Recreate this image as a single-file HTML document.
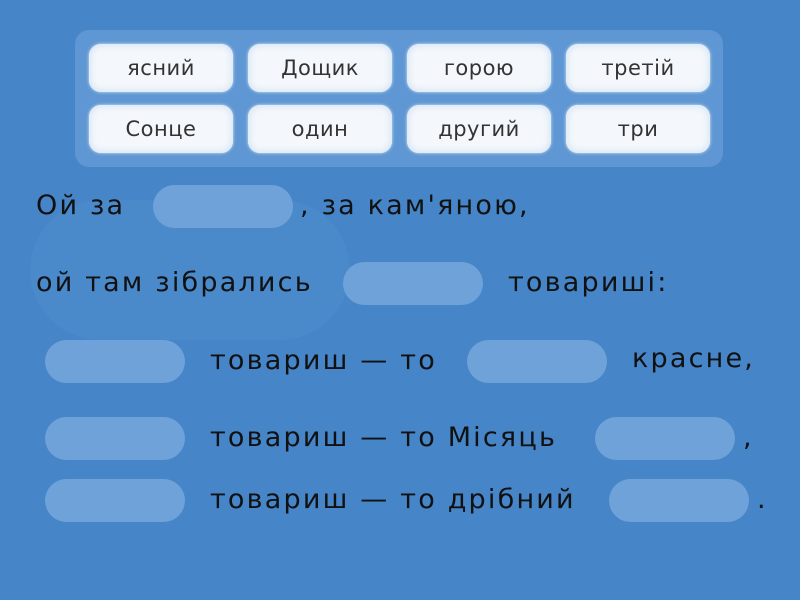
<!DOCTYPE html>
<html><head><meta charset="utf-8"><style>
html,body{margin:0;padding:0}
body{width:800px;height:600px;background:#4585c8;position:relative;overflow:hidden;font-family:"DejaVu Sans","Liberation Sans",sans-serif}
.blob{position:absolute;background:#4a8acb;border-radius:60px}
.panel{position:absolute;left:75px;top:30px;width:648px;height:137px;background:#5e97d3;border-radius:14px}
.card{position:absolute;width:144px;height:48px;background:#f4f8fc;border-radius:12px;box-shadow:0 0 6px 3px #dde9f6 inset,0 0 3px #dbe8f5;font-size:21px;letter-spacing:0.5px;color:#333;text-align:center;line-height:48px}
.b{position:absolute;width:140px;height:43px;background:#6fa2d9;border-radius:22px}
.t{position:absolute;font-size:27px;letter-spacing:2.2px;color:#111;white-space:pre;line-height:30px}
</style></head><body>
<div class="blob" style="left:30px;top:200px;width:320px;height:140px;border-radius:80px"></div>
<div class="panel"></div>
<div class="card" style="left:89px;top:44px">ясний</div>
<div class="card" style="left:248px;top:44px">Дощик</div>
<div class="card" style="left:407px;top:44px">горою</div>
<div class="card" style="left:566px;top:44px">третій</div>
<div class="card" style="left:89px;top:105px">Сонце</div>
<div class="card" style="left:248px;top:105px">один</div>
<div class="card" style="left:407px;top:105px">другий</div>
<div class="card" style="left:566px;top:105px">три</div>

<div class="t" style="left:36px;top:191px">Ой за</div>
<div class="b" style="left:153px;top:185px"></div>
<div class="t" style="left:300px;top:191px">, за кам'яною,</div>

<div class="t" style="left:36px;top:268px">ой там зібрались</div>
<div class="b" style="left:343px;top:262px"></div>
<div class="t" style="left:508px;top:268px">товариші:</div>

<div class="b" style="left:45px;top:340px"></div>
<div class="t" style="left:210px;top:346px">товариш — то</div>
<div class="b" style="left:467px;top:340px"></div>
<div class="t" style="left:632px;top:344px">красне,</div>

<div class="b" style="left:45px;top:417px"></div>
<div class="t" style="left:210px;top:423px">товариш — то Місяць</div>
<div class="b" style="left:595px;top:417px"></div>
<div class="t" style="left:743px;top:423px">,</div>

<div class="b" style="left:45px;top:479px"></div>
<div class="t" style="left:210px;top:485px">товариш — то дрібний</div>
<div class="b" style="left:609px;top:479px"></div>
<div class="t" style="left:757px;top:485px">.</div>
</body></html>
